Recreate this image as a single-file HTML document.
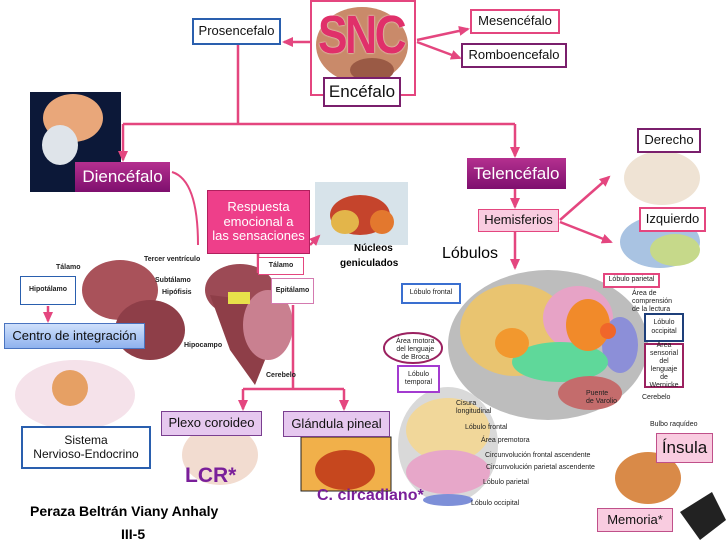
<!DOCTYPE html>
<html><head><meta charset="utf-8"><style>
body{margin:0;width:728px;height:546px;background:#fff;position:relative;overflow:hidden;font-family:"Liberation Sans",sans-serif}
.b{position:absolute;box-sizing:border-box;display:flex;align-items:center;justify-content:center;text-align:center;background:#fff;color:#111;font-size:13px;line-height:1.15}
.t{position:absolute;white-space:nowrap}
.s{font-size:7px;color:#222}
</style></head><body>
<svg width="728" height="546" style="position:absolute;left:0;top:0">
<defs>
<marker id="a" markerUnits="userSpaceOnUse" markerWidth="12" markerHeight="12" refX="9" refY="6" orient="auto"><path d="M0,1 L11,6 L0,11 Z" fill="#e4467f"/></marker>
</defs>
<ellipse cx="362" cy="45" rx="46" ry="38" fill="#c98a6a"/>
<ellipse cx="372" cy="70" rx="22" ry="12" fill="#9a5a45"/>
<rect x="30" y="92" width="91" height="100" fill="#0c1838"/>
<ellipse cx="73" cy="118" rx="30" ry="24" fill="#e9a77a"/>
<ellipse cx="60" cy="145" rx="18" ry="20" fill="#dfe4ea"/>
<rect x="315" y="182" width="93" height="63" fill="#d7e3ea"/>
<ellipse cx="360" cy="215" rx="30" ry="20" fill="#c5442c"/>
<ellipse cx="345" cy="222" rx="14" ry="12" fill="#e3b54a"/>
<ellipse cx="382" cy="222" rx="12" ry="12" fill="#e3782e"/>
<ellipse cx="662" cy="178" rx="38" ry="27" fill="#efe3d4"/>
<ellipse cx="660" cy="242" rx="40" ry="26" fill="#a9c3e2"/>
<ellipse cx="675" cy="250" rx="25" ry="16" fill="#c6d98a"/>
<ellipse cx="120" cy="290" rx="38" ry="30" fill="#a9525a"/>
<ellipse cx="150" cy="330" rx="35" ry="30" fill="#8e3e48"/>
<ellipse cx="240" cy="290" rx="35" ry="26" fill="#9c4a55"/>
<path d="M210,295 L250,300 L265,360 L255,385 L230,350 Z" fill="#8e3e48"/>
<ellipse cx="268" cy="325" rx="25" ry="35" fill="#c98090"/>
<rect x="228" y="292" width="22" height="12" fill="#e8e04a"/>
<ellipse cx="75" cy="395" rx="60" ry="35" fill="#f5e2ea"/>
<circle cx="70" cy="388" r="18" fill="#e6a064"/>
<ellipse cx="548" cy="345" rx="100" ry="75" fill="#bdbdbd"/>
<ellipse cx="515" cy="330" rx="55" ry="46" fill="#e9c470"/>
<ellipse cx="578" cy="318" rx="35" ry="32" fill="#e7a3c6"/>
<ellipse cx="620" cy="345" rx="18" ry="28" fill="#8c8fd8"/>
<ellipse cx="560" cy="362" rx="48" ry="20" fill="#5fd89a"/>
<ellipse cx="588" cy="325" rx="22" ry="26" fill="#f18a2a"/>
<ellipse cx="512" cy="343" rx="17" ry="15" fill="#f2982e"/>
<circle cx="608" cy="331" r="8" fill="#f0662a"/>
<ellipse cx="590" cy="393" rx="32" ry="17" fill="#c46c6c"/>
<ellipse cx="448" cy="445" rx="50" ry="58" fill="#d9d9d9"/>
<ellipse cx="448" cy="430" rx="42" ry="32" fill="#f1d79a"/>
<ellipse cx="448" cy="472" rx="42" ry="22" fill="#e7a7c9"/>
<ellipse cx="448" cy="500" rx="25" ry="6" fill="#7d8fd8"/>
<rect x="301" y="437" width="90" height="54" fill="#f1b04a" stroke="#222"/>
<ellipse cx="345" cy="470" rx="30" ry="20" fill="#c6471e"/>
<ellipse cx="220" cy="455" rx="38" ry="30" fill="#f2dcd0"/>
<ellipse cx="648" cy="478" rx="33" ry="26" fill="#d98a48"/>
<path d="M680,512 L712,492 L726,520 L700,540 Z" fill="#222"/>
<g stroke="#e4467f" stroke-width="2.5" fill="none">
<line x1="311" y1="42" x2="284" y2="42" marker-end="url(#a)"/>
<line x1="417" y1="40" x2="468" y2="29" marker-end="url(#a)"/>
<line x1="417" y1="42" x2="460" y2="58" marker-end="url(#a)"/>
<path d="M238,44 V124"/>
<path d="M123,124 H515"/>
<line x1="123" y1="124" x2="123" y2="160" marker-end="url(#a)"/>
<line x1="515" y1="124" x2="515" y2="156" marker-end="url(#a)"/>
<line x1="515" y1="189" x2="515" y2="207" marker-end="url(#a)"/>
<line x1="560" y1="220" x2="609" y2="177" marker-end="url(#a)"/>
<line x1="560" y1="222" x2="611" y2="242" marker-end="url(#a)"/>
<line x1="515" y1="232" x2="515" y2="268" marker-end="url(#a)"/>
<path d="M172,172 Q198,180 198,245" stroke-width="2"/>
<line x1="310" y1="245" x2="319" y2="236" marker-end="url(#a)"/>
<line x1="48" y1="306" x2="48" y2="321" marker-end="url(#a)"/>
<path d="M293,305 V389 M243,389 H344"/>
<line x1="243" y1="389" x2="243" y2="409" marker-end="url(#a)"/>
<line x1="344" y1="389" x2="344" y2="409" marker-end="url(#a)"/>
<line x1="258" y1="254" x2="258" y2="273"/>
</g>
<ellipse cx="413" cy="348" rx="29" ry="15" fill="#fff" stroke="#9b2160" stroke-width="2"/>
</svg>

<div class="b" style="left:310px;top:0;width:106px;height:96px;border:2px solid #e4467f;background:transparent"></div>
<div class="t" style="left:318px;top:4px;font-size:54px;font-weight:bold;color:#e0306a;letter-spacing:-3px;transform:scaleX(0.82);transform-origin:left top;text-shadow:0 0 2px #fff">SNC</div>
<div class="b" style="left:192px;top:18px;width:89px;height:27px;border:2px solid #2a5fae">Prosencefalo</div>
<div class="b" style="left:323px;top:77px;width:78px;height:30px;border:2px solid #7a1f6c;font-size:17px">Encéfalo</div>
<div class="b" style="left:470px;top:9px;width:90px;height:25px;border:2px solid #e4467f">Mesencéfalo</div>
<div class="b" style="left:461px;top:43px;width:106px;height:25px;border:2px solid #7a1f6c">Romboencefalo</div>
<div class="b" style="left:75px;top:162px;width:95px;height:30px;background:linear-gradient(#b4308f,#7e0f6e);color:#fff;font-size:17px">Diencéfalo</div>
<div class="b" style="left:467px;top:158px;width:99px;height:31px;background:linear-gradient(#b4308f,#7e0f6e);color:#fff;font-size:17px">Telencéfalo</div>
<div class="b" style="left:478px;top:209px;width:81px;height:23px;background:#f9cce0;border:1px solid #e4467f">Hemisferios</div>
<div class="b" style="left:637px;top:128px;width:64px;height:25px;border:2px solid #7a1f6c">Derecho</div>
<div class="b" style="left:639px;top:207px;width:67px;height:25px;border:2px solid #e4467f">Izquierdo</div>
<div class="b" style="left:207px;top:190px;width:103px;height:64px;background:#ee3f8a;color:#fff;border:1px solid #b0205e">Respuesta<br>emocional a<br>las sensaciones</div>
<div class="t" style="left:340px;top:241px;font-size:10px;font-weight:bold;text-align:center;line-height:15px">&nbsp;&nbsp;&nbsp;Núcleos<br>geniculados</div>
<div class="t" style="left:442px;top:245px;font-size:16px">Lóbulos</div>
<div class="b s" style="left:20px;top:276px;width:56px;height:29px;border:1px solid #2a5fae;font-weight:bold">Hipotálamo</div>
<div class="b s" style="left:258px;top:257px;width:46px;height:18px;border:1px solid #e4467f;font-weight:bold">Tálamo</div>
<div class="b s" style="left:271px;top:278px;width:43px;height:26px;border:1px solid #d47ab0;font-weight:bold">Epitálamo</div>
<div class="t s" style="left:56px;top:264px;font-weight:bold">Tálamo</div>
<div class="t s" style="left:144px;top:256px;font-weight:bold">Tercer ventrículo</div>
<div class="t s" style="left:155px;top:277px;font-weight:bold">Subtálamo</div>
<div class="t s" style="left:162px;top:289px;font-weight:bold">Hipófisis</div>
<div class="t s" style="left:184px;top:342px;font-weight:bold">Hipocampo</div>
<div class="t s" style="left:266px;top:372px;font-weight:bold">Cerebelo</div>
<div class="b" style="left:4px;top:323px;width:141px;height:26px;background:linear-gradient(#cfe0fb,#8fb2ee);border:1px solid #4a74c0;font-size:13px">Centro de integración</div>
<div class="b" style="left:21px;top:426px;width:130px;height:43px;border:2px solid #2a5fae;font-size:12px">Sistema<br>Nervioso-Endocrino</div>
<div class="b" style="left:161px;top:411px;width:101px;height:25px;background:#e6c8ef;border:1px solid #7a3f90">Plexo coroideo</div>
<div class="b" style="left:283px;top:411px;width:107px;height:26px;background:#e6c8ef;border:1px solid #7a3f90">Glándula pineal</div>
<div class="t" style="left:185px;top:464px;font-size:21px;font-weight:bold;color:#7a1f9a">LCR*</div>
<div class="t" style="left:317px;top:487px;font-size:16px;font-weight:bold;color:#7a1f9a">C. circadiano*</div>
<div class="t" style="left:30px;top:503px;font-size:14px;font-weight:bold">Peraza Beltrán Viany Anhaly</div>
<div class="t" style="left:121px;top:526px;font-size:14px;font-weight:bold">III-5</div>
<div class="b s" style="left:401px;top:283px;width:60px;height:21px;border:2px solid #3a6fd0">Lóbulo frontal</div>
<div class="t s" style="left:396px;top:338px;line-height:8px;text-align:center">Área motora<br>del lenguaje<br>de Broca</div>
<div class="b s" style="left:397px;top:365px;width:43px;height:28px;border:2px solid #a33bd0">Lóbulo<br>temporal</div>
<div class="b s" style="left:603px;top:273px;width:57px;height:15px;border:2px solid #e4467f">Lóbulo parietal</div>
<div class="t s" style="left:632px;top:290px;line-height:8px">Área de<br>comprensión<br>de la lectura</div>
<div class="b s" style="left:644px;top:313px;width:40px;height:29px;border:2px solid #1e3f7a">Lóbulo<br>occipital</div>
<div class="b s" style="left:644px;top:343px;width:40px;height:45px;border:2px solid #9b2160;line-height:8px">Área sensorial del lenguaje de Wernicke</div>
<div class="t s" style="left:642px;top:394px">Cerebelo</div>
<div class="t s" style="left:650px;top:421px">Bulbo raquídeo</div>
<div class="t s" style="left:586px;top:390px;line-height:8px">Puente<br>de Varolio</div>
<div class="t s" style="left:456px;top:400px;line-height:8px">Cisura<br>longitudinal</div>
<div class="t s" style="left:465px;top:424px">Lóbulo frontal</div>
<div class="t s" style="left:481px;top:437px">Área premotora</div>
<div class="t s" style="left:485px;top:452px">Circunvolución frontal ascendente</div>
<div class="t s" style="left:486px;top:464px">Circunvolución parietal ascendente</div>
<div class="t s" style="left:483px;top:479px">Lóbulo parietal</div>
<div class="t s" style="left:471px;top:500px">Lóbulo occipital</div>
<div class="b" style="left:656px;top:433px;width:57px;height:30px;background:#f9cce0;border:1px solid #c0508a;font-size:17px">Ínsula</div>
<div class="b" style="left:597px;top:508px;width:76px;height:24px;background:#f9cce0;border:1px solid #c0508a">Memoria*</div>
</body></html>
